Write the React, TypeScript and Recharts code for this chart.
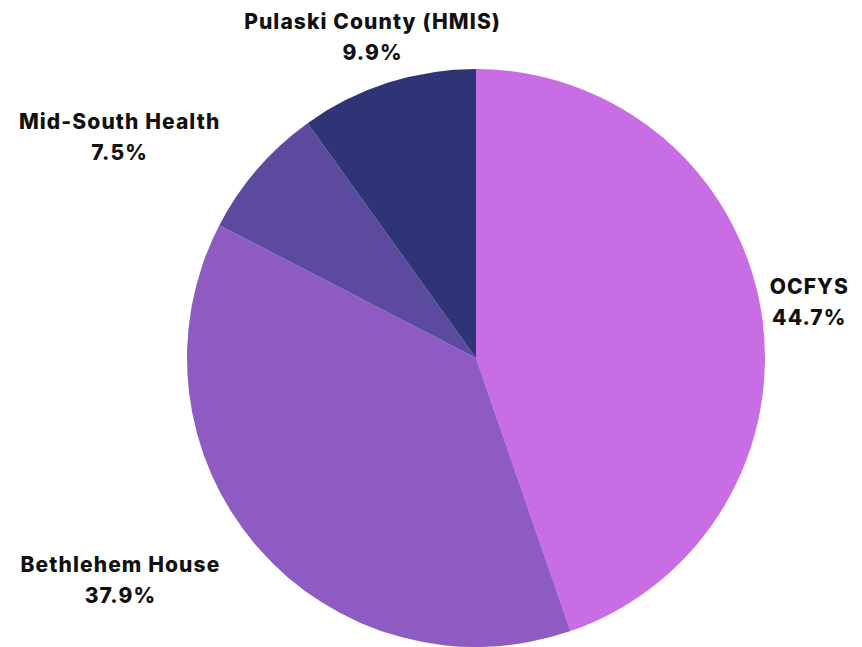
import React from "react";
import { PieChart, Pie, Cell } from "recharts";

const categories = ["OCFYS", "Bethlehem House", "Mid-South Health", "Pulaski County (HMIS)"];
const shares = [44.7, 37.9, 7.5, 9.9];
const colors = ["#C96DE5", "#8E5BC3", "#5B4A9E", "#2E3475"];

const data = categories.map((name, i) => ({ name, value: shares[i] }));

const FONT_FAMILY = "Inter, 'Noto Sans', sans-serif";
const FONT_SIZE = 21;
const FONT_WEIGHT = 800;
const LETTER_SPACING = 1.1;

let ctx: CanvasRenderingContext2D | null = null;
function measure(text: string): number {
  if (!ctx) {
    const c = document.createElement("canvas");
    ctx = c.getContext("2d");
  }
  if (!ctx) return text.length * FONT_SIZE * 0.65;
  ctx.font = `${FONT_WEIGHT} ${FONT_SIZE}px Inter`;
  return ctx.measureText(text).width + text.length * LETTER_SPACING;
}

const RAD = Math.PI / 180;

const renderLabel = (props: any) => {
  const { cx, cy, midAngle, outerRadius, name, value } = props;
  const r = outerRadius + 49;
  const cos = Math.cos(-midAngle * RAD);
  const sin = Math.sin(-midAngle * RAD);
  const px = cx + r * cos;
  const py = cy + r * sin;
  const w = Math.max(measure(name), measure(`${value.toFixed(1)}%`));
  const x = cos < -0.5 ? px - w / 2 : px;
  return (
    <text
      x={x}
      y={py}
      textAnchor="middle"
      fill="#111111"
      fontFamily={FONT_FAMILY}
      fontSize={FONT_SIZE}
      fontWeight={FONT_WEIGHT}
      letterSpacing={LETTER_SPACING}
    >
      <tspan x={x} y={py - 7.5}>{name}</tspan>
      <tspan x={x} y={py + 23.5}>{`${value.toFixed(1)}%`}</tspan>
    </text>
  );
};

export default function App() {
  return (
    <div style={{ position: "absolute", left: 0, top: 0, width: 862, height: 647, background: "#ffffff" }}>
      <PieChart width={862} height={647} margin={{ top: 0, right: 0, bottom: 0, left: 0 }}>
        <Pie
          data={data}
          dataKey="value"
          nameKey="name"
          cx={476}
          cy={358}
          outerRadius={289}
          startAngle={90}
          endAngle={-270}
          stroke="none"
          label={renderLabel}
          labelLine={false}
          isAnimationActive={false}
        >
          {data.map((d, i) => (
            <Cell key={d.name} fill={colors[i]} />
          ))}
        </Pie>
      </PieChart>
    </div>
  );
}
